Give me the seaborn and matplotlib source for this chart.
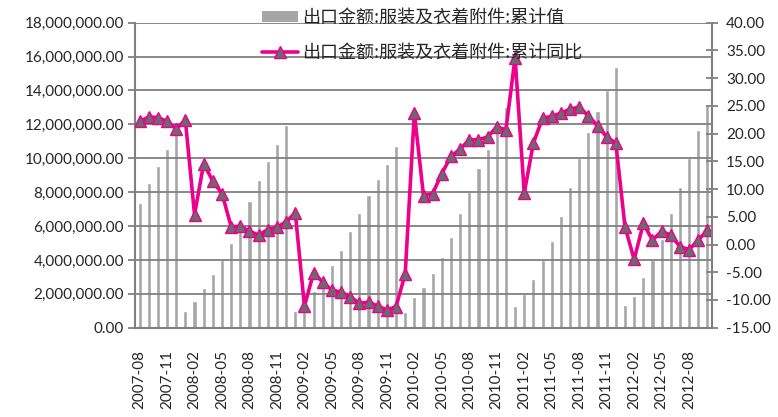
import numpy as np
import pandas as pd
import matplotlib
matplotlib.use("Agg")
import matplotlib.pyplot as plt
import matplotlib.ticker as mticker
from matplotlib.patches import Patch
from matplotlib.lines import Line2D
import seaborn as sns

# 月份 2007-08 ~ 2012-10
months = [
    "2007-08", "2007-09", "2007-10", "2007-11", "2007-12",
    "2008-01", "2008-02", "2008-03", "2008-04", "2008-05", "2008-06",
    "2008-07", "2008-08", "2008-09", "2008-10", "2008-11", "2008-12",
    "2009-01", "2009-02", "2009-03", "2009-04", "2009-05", "2009-06",
    "2009-07", "2009-08", "2009-09", "2009-10", "2009-11", "2009-12",
    "2010-01", "2010-02", "2010-03", "2010-04", "2010-05", "2010-06",
    "2010-07", "2010-08", "2010-09", "2010-10", "2010-11", "2010-12",
    "2011-01", "2011-02", "2011-03", "2011-04", "2011-05", "2011-06",
    "2011-07", "2011-08", "2011-09", "2011-10", "2011-11", "2011-12",
    "2012-01", "2012-02", "2012-03", "2012-04", "2012-05", "2012-06",
    "2012-07", "2012-08", "2012-09", "2012-10",
]

# 出口金额:服装及衣着附件:累计值
export_value = [
    7330000, 8560000, 9570000, 10570000, 11600000,
    970000, 1600000, 2330000, 3140000, 3990000, 5000000,
    6200000, 7470000, 8720000, 9840000, 10850000, 11960000,
    1000000, 1750000, 2190000, 2980000, 3680000, 4570000,
    5690000, 6780000, 7850000, 8750000, 9660000, 10730000,
    950000, 1800000, 2390000, 3220000, 4170000, 5360000,
    6740000, 8020000, 9410000, 10530000, 11700000, 13000000,
    1300000, 1960000, 2890000, 3970000, 5120000, 6580000,
    8320000, 10000000, 11560000, 12770000, 14000000, 15370000,
    1360000, 1900000, 2980000, 4010000, 5260000, 6740000,
    8320000, 10000000, 11640000, 13120000,
]

# 出口金额:服装及衣着附件:累计同比
export_yoy = [
    22.2, 23.0, 22.9, 22.2, 20.9,
    22.4, 5.4, 14.6, 11.4, 9.2, 3.2,
    3.3, 2.4, 1.7, 2.7, 3.1, 4.1,
    5.7, -11.1, -5.1, -6.8, -8.2, -8.6,
    -9.4, -10.6, -10.4, -11.1, -11.8, -11.2,
    -5.3, 23.7, 8.8, 9.2, 12.8, 15.9,
    17.2, 18.9, 18.9, 19.4, 21.2, 20.7,
    33.7, 9.3, 18.3, 22.8, 23.1, 23.7,
    24.4, 24.8, 23.2, 21.4, 19.4, 18.3,
    3.2, -2.7, 3.8, 0.8, 2.4, 1.7,
    -0.4, -0.9, 0.8, 2.6,
]

label_value = "出口金额:服装及衣着附件:累计值"
label_yoy = "出口金额:服装及衣着附件:累计同比"

GRID = "#808080"
BAR = "#A6A6A6"
LINE = "#EC008C"
MARKER = "#6B6B6B"

sns.set_style("white")
plt.rcParams['font.family'] = ['Lato', 'Noto Sans CJK SC', 'DejaVu Sans']

df = pd.DataFrame({"month": months, "value": export_value, "yoy": export_yoy})
df["pos"] = np.arange(len(df))
n = len(df)

fig = plt.figure(figsize=(7.78, 4.17), dpi=100)
ax = fig.add_axes([135 / 778, 1 - 327.7 / 417, 577 / 778, 305 / 417])

# 柱: 累计值
sns.barplot(data=df, x="month", y="value", color=BAR, saturation=1,
            width=0.45, ax=ax, zorder=1)
ax.set_xlim(-0.5, n - 0.5)
ax.set_ylim(0, 18000000)
ax.yaxis.set_major_locator(mticker.MultipleLocator(2000000))
ax.yaxis.set_major_formatter(mticker.FuncFormatter(lambda v, p: f"{v:,.2f}"))
ax.yaxis.grid(True, color=GRID, lw=1.3, zorder=2)
ax.set_axisbelow(False)
ax.set_xlabel("")
ax.set_ylabel("")

# x 轴: 每 3 个月一个标签, 刻度线在类别边界
ax.set_xticks(df["pos"][::3])
ax.set_xticklabels(df["month"][::3], rotation=90)
ax.set_xticks(np.arange(-0.5, n, 3), minor=True)
ax.tick_params(axis="x", which="major", length=0, pad=16, labelsize=11)
ax.tick_params(axis="x", which="minor", length=6, width=1.3, color=GRID, direction="out")
ax.tick_params(axis="y", length=5, width=1.3, color=GRID, direction="out", labelsize=11, pad=3)

for s in ["top", "right"]:
    ax.spines[s].set_visible(False)
for s in ["left", "bottom"]:
    ax.spines[s].set_color(GRID)
    ax.spines[s].set_linewidth(1.5)

# 折线: 累计同比 (右轴)
ax2 = ax.twinx()
sns.lineplot(data=df, x="pos", y="yoy", ax=ax2, color=LINE, lw=2.6,
             marker="^", markersize=8, markerfacecolor=MARKER,
             markeredgecolor=LINE, markeredgewidth=1.0)
ax2.set_ylim(-15, 40)
ax2.set_xlim(-0.5, n - 0.5)
ax2.yaxis.set_major_locator(mticker.MultipleLocator(5))
ax2.yaxis.set_major_formatter(mticker.FuncFormatter(lambda v, p: f"{v:.2f}"))
ax2.tick_params(axis="y", length=8, width=1.3, color=GRID, direction="inout", labelsize=11, pad=6)
ax2.set_xlabel("")
ax2.set_ylabel("")
for s in ["top", "left", "bottom"]:
    ax2.spines[s].set_visible(False)
ax2.spines["right"].set_color(GRID)
ax2.spines["right"].set_linewidth(1.5)

# 图例
handles = [
    Patch(facecolor=BAR, edgecolor="none"),
    Line2D([], [], color=LINE, lw=2.6, marker="^", markersize=8,
           markerfacecolor=MARKER, markeredgecolor=LINE),
]
leg = fig.legend(handles, [label_value, label_yoy], loc="upper left",
                 bbox_to_anchor=(262 / 778, 1 - 9 / 417), frameon=False,
                 borderpad=0, borderaxespad=0, handlelength=2.0, handleheight=0.6,
                 handletextpad=0.25, labelspacing=0.95,
                 prop={"family": ["Noto Sans CJK SC", "DejaVu Sans"], "size": 13,
                       "weight": "light"})
for t in leg.get_texts():
    t.set_color("#262626")

fig.savefig("out.png", dpi=100)
